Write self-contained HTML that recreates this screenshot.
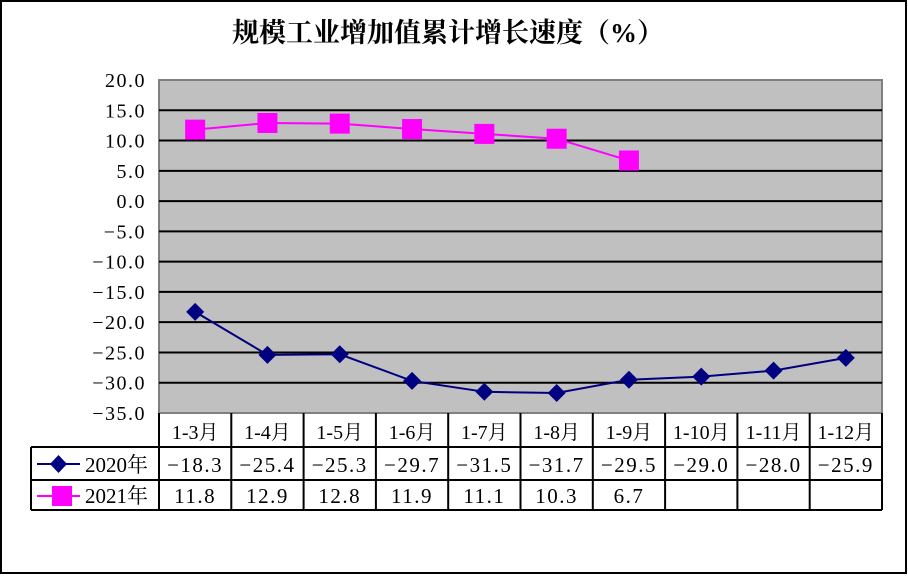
<!DOCTYPE html>
<html><head><meta charset="utf-8"><style>
body{margin:0;background:#fff}
svg text{font-family:"Liberation Serif","Noto Serif CJK SC",serif}
.num{letter-spacing:1.5px}
</style></head><body>
<svg width="908" height="575" xmlns="http://www.w3.org/2000/svg">
<rect x="1" y="1" width="905" height="572" fill="#fff" stroke="#000" stroke-width="2"/>
<text x="448" y="42" text-anchor="middle" font-size="27" font-weight="bold" font-family="Noto Serif CJK SC">规模工业增加值累计增长速度（%）</text>
<rect x="159" y="80" width="723" height="333" fill="#c0c0c0" stroke="#808080" stroke-width="2"/>
<g id="grid"></g><g id="yt"></g><g id="tbl"></g><g id="series"></g>
</svg>
<script>
const categories=["1-3月","1-4月","1-5月","1-6月","1-7月","1-8月","1-9月","1-10月","1-11月","1-12月"];
const s2020=[-18.3,-25.4,-25.3,-29.7,-31.5,-31.7,-29.5,-29.0,-28.0,-25.9];
const s2021=[11.8,12.9,12.8,11.9,11.1,10.3,6.7];
const yTicks=[20,15,10,5,0,-5,-10,-15,-20,-25,-30,-35];
const NS="http://www.w3.org/2000/svg";
const L=159,R=882,T=80,B=413,cw=(R-L)/categories.length;
const y=v=>T+(20-v)/55*(B-T);
const x=i=>L+cw*(i+0.5);
function mk(tag,at,parent,txt){const e=document.createElementNS(NS,tag);for(const k in at)e.setAttribute(k,at[k]);if(txt!==undefined)e.textContent=txt;document.getElementById(parent).appendChild(e);return e;}
yTicks.forEach(v=>{
 if(v<20&&v>-35){const g=mk('line',{x1:L,x2:R,y1:y(v),y2:y(v),stroke:'#000','stroke-width':2},'grid');
 
 }
 const t=mk('text',{x:146,y:y(v)+7,'text-anchor':'end','font-size':20,class:'num'},'yt',v.toFixed(1).replace('-','−'));
 
 
});
mk('line',{x1:31,x2:R,y1:447,y2:447,stroke:'#000','stroke-width':2},'tbl');
mk('line',{x1:31,x2:R,y1:480,y2:480,stroke:'#000','stroke-width':2},'tbl');
mk('line',{x1:31,x2:R,y1:510,y2:510,stroke:'#000','stroke-width':2},'tbl');
mk('line',{x1:31,x2:31,y1:447,y2:510,stroke:'#000','stroke-width':2},'tbl');
mk('line',{x1:R,x2:R,y1:413,y2:510,stroke:'#000','stroke-width':2},'tbl');
for(let i=0;i<=categories.length;i++){mk('line',{x1:L+cw*i,x2:L+cw*i,y1:413,y2:510,stroke:'#000','stroke-width':2},'tbl');}
categories.forEach((c,i)=>{
 const t=mk('text',{x:x(i),y:439,'text-anchor':'middle','font-size':20},'tbl',c);
 
 
 const a=mk('text',{x:x(i),y:472,'text-anchor':'middle','font-size':21,class:'num'},'tbl',s2020[i].toFixed(1).replace('-','−'));
 
 
 if(i<s2021.length){const b=mk('text',{x:x(i),y:503,'text-anchor':'middle','font-size':21,class:'num'},'tbl',s2021[i].toFixed(1));
 
 }
});
mk('line',{x1:37,x2:80,y1:464,y2:464,stroke:'#000080','stroke-width':2},'tbl');
mk('path',{d:'M58.5 455 L67 464 L58.5 473 L50 464Z',fill:'#000080'},'tbl');
const l1=mk('text',{x:85,y:472,'font-size':21},'tbl','2020年');


mk('line',{x1:37,x2:80,y1:496,y2:496,stroke:'#ff00ff','stroke-width':2},'tbl');
mk('rect',{x:52,y:486,width:20,height:20,fill:'#ff00ff'},'tbl');
const l2=mk('text',{x:85,y:503,'font-size':21},'tbl','2021年');


const p1=mk('polyline',{points:s2020.map((v,i)=>x(i)+','+y(v)).join(' '),fill:'none',stroke:'#000080','stroke-width':2},'series');


s2020.forEach((v,i)=>{const m=mk('path',{d:`M${x(i)} ${y(v)-9} L${x(i)+9} ${y(v)} L${x(i)} ${y(v)+9} L${x(i)-9} ${y(v)}Z`,fill:'#000080'},'series');
 
 });
const p2=mk('polyline',{points:s2021.map((v,i)=>x(i)+','+y(v)).join(' '),fill:'none',stroke:'#ff00ff','stroke-width':2},'series');


s2021.forEach((v,i)=>{const m=mk('rect',{x:x(i)-10,y:y(v)-10,width:20,height:20,fill:'#ff00ff'},'series');
 
 });
</script>
</body></html>
